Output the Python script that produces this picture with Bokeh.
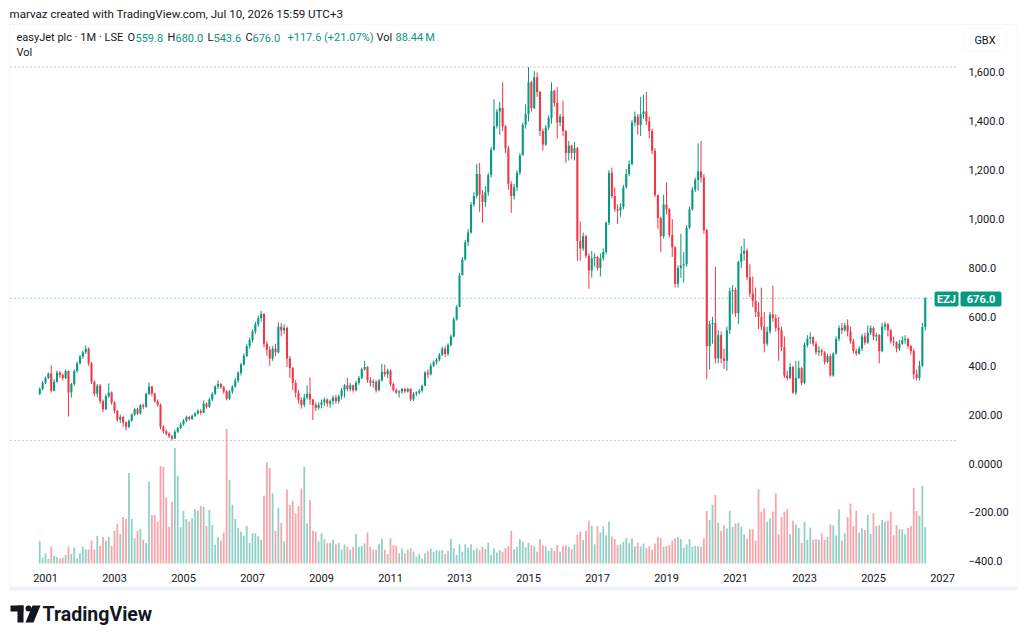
from bokeh.plotting import figure
from bokeh.models import (Range1d, Label, BoxAnnotation, PolyAnnotation, ColumnDataSource)
from bokeh.core.properties import value
from bokeh.embed import file_html
from bokeh.resources import INLINE

# ---------------- data (monthly, Nov 2000 .. Jul 2026), GBX ----------------
first_month_index = -2          # months after Jan 2001 of the first candle (Nov 2000)
first_open = 285.0

closes = [
    305, 330,
    350, 368, 298, 335, 372, 362, 350, 378, 290, 325, 378, 410,
    438, 455, 470, 410, 335, 285, 318, 255, 222, 275, 290, 250,
    215, 180, 190, 168, 150, 175, 200, 222, 205, 238, 232, 285,
    315, 285, 255, 240, 150, 132, 122, 112, 102, 130, 145, 160,
    175, 190, 182, 195, 205, 215, 208, 245, 232, 262, 285, 315,
    325, 312, 295, 265, 295, 315, 340, 370, 405, 440, 480, 505,
    540, 570, 595, 612, 490, 465, 430, 470, 455, 560, 545, 555,
    430, 390, 330, 290, 260, 240, 270, 285, 262, 240, 228, 240,
    250, 262, 245, 255, 270, 255, 275, 300, 320, 305, 320, 300,
    330, 350, 385, 395, 340, 330, 335, 300, 340, 375, 365, 380,
    325, 300, 290, 295, 305, 295, 305, 262, 285, 290, 298, 318,
    372, 365, 400, 415, 425, 445, 470, 448, 485, 520, 590, 640,
    770, 835, 905, 945, 1060, 1095, 1185, 1100, 1070, 1110, 1180, 1285,
    1380, 1440, 1455, 1380, 1290, 1145, 1095, 1130, 1190, 1260, 1385, 1430,
    1560, 1455, 1580, 1520, 1360, 1305, 1375, 1415, 1525, 1475, 1395, 1420,
    1360, 1270, 1300, 1270, 1290, 910, 880, 930, 850, 790, 840, 845,
    800, 840, 865, 985, 1190, 1095, 1040, 1035, 1050, 1130, 1185, 1225,
    1395, 1420, 1385, 1430, 1440, 1400, 1360, 1280, 1100, 1005, 930, 1060,
    1040, 935, 885, 735, 800, 810, 815, 965, 1040, 1120, 1160, 1195,
    1170, 955, 480, 570, 575, 430, 525, 430, 420, 545, 705, 710,
    615, 825, 858, 870, 762, 695, 665, 620, 600, 560, 490, 540,
    610, 595, 555, 545, 476, 360, 350, 395, 290, 350, 390, 330,
    485, 510, 517, 490, 455, 462, 455, 415, 440, 360, 450, 510,
    555, 545, 565, 540, 500, 460, 450, 470, 520, 495, 535, 555,
    520, 525, 460, 560, 570, 545, 500, 495, 470, 490, 505, 510,
    480, 460, 365, 350, 400, 558.4, 676.0,
]

highs = [
    312, 338,
    356, 372, 402, 345, 380, 378, 368, 385, 380, 330, 385, 418,
    445, 462, 483, 475, 415, 340, 325, 325, 262, 285, 328, 295,
    255, 220, 200, 195, 172, 180, 205, 228, 228, 242, 245, 290,
    332, 318, 290, 262, 245, 155, 140, 128, 118, 138, 150, 168,
    182, 196, 195, 200, 210, 222, 222, 258, 250, 270, 292, 320,
    340, 330, 318, 300, 300, 320, 350, 378, 412, 450, 490, 515,
    548, 580, 605, 625, 615, 500, 480, 480, 490, 578, 575, 570,
    560, 440, 395, 340, 300, 270, 285, 320, 352, 265, 250, 250,
    262, 270, 266, 262, 278, 280, 282, 310, 325, 350, 330, 322,
    338, 358, 392, 420, 398, 352, 345, 340, 345, 408, 405, 388,
    385, 330, 308, 300, 310, 310, 310, 308, 292, 295, 305, 322,
    378, 385, 410, 422, 432, 452, 478, 480, 492, 528, 598, 648,
    780, 845, 915, 960, 1070, 1110, 1225, 1230, 1120, 1135, 1190, 1295,
    1490, 1450, 1480, 1560, 1385, 1300, 1155, 1145, 1200, 1270, 1395, 1470,
    1622, 1565, 1605, 1600, 1525, 1370, 1385, 1425, 1560, 1530, 1540, 1430,
    1485, 1365, 1320, 1305, 1315, 1295, 990, 945, 935, 860, 870, 860,
    850, 860, 880, 990, 1200, 1210, 1130, 1060, 1065, 1140, 1205, 1240,
    1405, 1440, 1430, 1500, 1510, 1520, 1420, 1370, 1290, 1075, 1010, 1100,
    1150, 1045, 1000, 890, 810, 940, 865, 975, 1050, 1130, 1170, 1310,
    1320, 1185, 960, 585, 600, 805, 545, 540, 470, 560, 720, 730,
    720, 830, 890, 920, 880, 815, 765, 720, 660, 720, 620, 560,
    620, 728, 610, 600, 560, 520, 380, 410, 400, 420, 420, 395,
    495, 525, 537, 520, 500, 480, 470, 460, 450, 450, 455, 520,
    565, 575, 575, 590, 560, 510, 470, 480, 530, 535, 565, 565,
    560, 535, 530, 575, 580, 575, 550, 520, 500, 505, 520, 525,
    515, 485, 470, 385, 420, 575, 680.0,
]

lows = [
    280, 300,
    325, 345, 290, 295, 330, 350, 340, 345, 192, 270, 318, 370,
    405, 428, 448, 400, 325, 275, 270, 245, 210, 218, 268, 240,
    205, 170, 165, 150, 135, 145, 170, 195, 198, 200, 222, 228,
    280, 275, 248, 232, 140, 122, 115, 105, 94, 100, 125, 140,
    155, 170, 175, 178, 190, 200, 200, 205, 225, 228, 255, 280,
    305, 305, 285, 258, 260, 285, 310, 330, 360, 400, 435, 470,
    495, 530, 560, 580, 475, 440, 400, 420, 440, 450, 520, 530,
    395, 350, 300, 270, 245, 225, 230, 262, 240, 178, 215, 220,
    225, 235, 232, 228, 240, 245, 245, 262, 270, 295, 295, 290,
    295, 322, 345, 380, 330, 315, 310, 290, 295, 335, 355, 350,
    315, 295, 285, 270, 285, 288, 290, 255, 255, 275, 282, 290,
    318, 350, 360, 395, 405, 418, 440, 435, 440, 478, 515, 585,
    640, 770, 830, 890, 940, 1050, 1085, 1030, 985, 1050, 1095, 1170,
    1280, 1370, 1345, 1360, 1270, 1120, 1025, 1080, 1115, 1180, 1270, 1370,
    1400, 1440, 1450, 1500, 1340, 1280, 1300, 1365, 1390, 1460, 1330, 1380,
    1340, 1230, 1240, 1245, 1240, 830, 830, 870, 840, 715, 760, 805,
    790, 765, 830, 855, 975, 1085, 1030, 980, 1010, 1040, 1125, 1175,
    1220, 1380, 1345, 1340, 1410, 1385, 1330, 1265, 1090, 960, 865, 920,
    1020, 925, 845, 720, 720, 760, 740, 805, 960, 1035, 1110, 1115,
    1150, 940, 345, 385, 490, 410, 410, 410, 387, 380, 530, 610,
    600, 570, 800, 830, 750, 680, 640, 600, 550, 545, 455, 480,
    530, 580, 540, 420, 460, 350, 340, 345, 285, 280, 345, 320,
    325, 475, 490, 480, 445, 440, 440, 405, 410, 355, 355, 445,
    500, 530, 540, 520, 490, 450, 440, 445, 460, 485, 490, 525,
    505, 500, 410, 455, 545, 520, 490, 480, 455, 460, 485, 490,
    470, 445, 345, 340, 340, 395, 543.6,
]

# monthly volume, millions of shares
volumes = [
    55, 15,
    25, 11, 41, 19, 16, 12, 15, 21, 41, 23, 39, 12,
    25, 41, 34, 34, 56, 34, 68, 43, 65, 56, 65, 43,
    80, 96, 72, 114, 109, 222, 109, 62, 80, 85, 58, 50,
    201, 119, 119, 102, 239, 237, 162, 90, 151, 283, 215, 89,
    129, 109, 102, 111, 133, 129, 141, 139, 92, 131, 94, 46,
    65, 56, 76, 330, 205, 144, 109, 87, 78, 68, 92, 50,
    74, 74, 67, 58, 166, 248, 234, 172, 80, 137, 100, 54,
    181, 144, 154, 123, 141, 184, 237, 98, 155, 80, 78, 54,
    74, 60, 50, 50, 58, 47, 51, 34, 47, 41, 34, 41,
    72, 41, 43, 49, 76, 41, 34, 34, 47, 61, 34, 23,
    62, 45, 43, 25, 37, 25, 34, 37, 29, 17, 23, 12,
    25, 30, 37, 29, 33, 31, 33, 23, 31, 60, 37, 21,
    47, 29, 47, 39, 47, 33, 37, 33, 41, 35, 51, 21,
    37, 27, 33, 29, 38, 43, 80, 35, 41, 60, 54, 39,
    51, 45, 42, 29, 60, 45, 42, 31, 38, 31, 45, 29,
    43, 45, 41, 35, 47, 70, 78, 58, 80, 105, 92, 47,
    92, 76, 91, 69, 102, 66, 60, 45, 47, 53, 62, 50,
    62, 42, 51, 42, 49, 38, 42, 34, 49, 65, 62, 41,
    43, 45, 56, 62, 65, 60, 39, 47, 60, 41, 43, 42,
    41, 61, 129, 107, 144, 168, 100, 80, 94, 86, 129, 90,
    98, 100, 90, 72, 61, 84, 84, 56, 182, 127, 135, 102,
    111, 127, 172, 72, 114, 127, 133, 72, 105, 96, 87, 51,
    102, 58, 88, 58, 60, 58, 74, 58, 65, 96, 93, 69,
    133, 56, 74, 114, 147, 92, 129, 76, 87, 82, 119, 72,
    123, 92, 94, 107, 102, 105, 127, 69, 94, 84, 84, 72,
    87, 92, 185, 129, 117, 190, 88.44,
]

year_ticks = [2001, 2003, 2005, 2007, 2009, 2011, 2013, 2015,
              2017, 2019, 2021, 2023, 2025, 2027]
price_ticks = [-400, -200, 0, 200, 400, 600, 800, 1000, 1200, 1400, 1600]
price_tick_labels = ["\u2212400.0", "\u2212200.00", "0.0000", "200.00", "400.0",
                     "600.0", "800.0", "1,000.0", "1,200.0", "1,400.0", "1,600.0"]

# ---------------- derived table ----------------
n = len(closes)
opens = [first_open] + closes[:-1]
months = list(range(first_month_index, first_month_index + n))
UP, DOWN = "#089981", "#f23645"
colors = [UP if c >= o else DOWN for o, c in zip(opens, closes)]
src = ColumnDataSource(dict(
    m=months, o=opens, h=highs, l=lows, c=closes,
    top=[max(o, c) for o, c in zip(opens, closes)],
    bot=[min(o, c) for o, c in zip(opens, closes)],
    color=colors, vol=volumes))

# ---------------- scales: the frame covers the whole 1024x642 canvas ----------------
W, H = 1024, 642
PX_PER_MONTH = 2.875          # horizontal scale
X0_PX = 45.0                  # pixel of Jan 2001
PX_PER_GBX = 0.2444           # vertical price scale
ZERO_PX = 463.0               # pixel of price 0
VOL_PER_PX = 2.45             # volume scale (millions per pixel)
VOL_BASE_PX = 563.0           # pixel of volume 0

def xd(px):
    return (px - X0_PX) / PX_PER_MONTH

def yd(py):
    return (ZERO_PX - py) / PX_PER_GBX

FONT = "Roboto"
TXT = "#131722"
p = figure(width=W, height=H, output_backend="svg", toolbar_location=None,
           x_range=Range1d(xd(0), xd(W)), y_range=Range1d(yd(H), yd(0)),
           x_axis_location=None, y_axis_location=None,
           min_border=0, min_border_left=0, min_border_right=0,
           min_border_top=0, min_border_bottom=0, outline_line_color=None,
           background_fill_color="white", border_fill_color="white")
p.extra_y_ranges = {"vol": Range1d((VOL_BASE_PX - H) * VOL_PER_PX, VOL_BASE_PX * VOL_PER_PX)}
p.xgrid.visible = False
p.ygrid.visible = False

# chart panel border
p.add_layout(BoxAnnotation(left=9, right=1017, top=24, bottom=587,
                           left_units="canvas", right_units="canvas",
                           top_units="canvas", bottom_units="canvas",
                           fill_alpha=0, line_color="#e0e3eb", line_width=1,
                           level="underlay"))
p.add_layout(BoxAnnotation(left=9, right=1017, top=586, bottom=590,
                           left_units="canvas", right_units="canvas",
                           top_units="canvas", bottom_units="canvas",
                           fill_color="#f0f3fa", fill_alpha=1, line_color=None,
                           level="underlay"))

# volume + candles
p.vbar(x="m", width=0.62, top="vol", bottom=0, fill_color="color", fill_alpha=0.45,
       line_color=None, y_range_name="vol", source=src)
p.segment(x0="m", y0="l", x1="m", y1="h", line_color="color", line_width=1, source=src)
p.vbar(x="m", width=0.72, top="top", bottom="bot", fill_color="color",
       line_color=None, source=src)

# reference lines (high / low / last)
hl = [max(highs), min(lows)]
p.segment(x0=[xd(10)] * 2, x1=[xd(958)] * 2, y0=hl, y1=hl,
          line_color="#9598a1", line_dash="1 3", line_width=1)
p.segment(x0=[xd(10)], x1=[xd(933)], y0=[closes[-1]], y1=[closes[-1]],
          line_color=UP, line_dash="1 3", line_width=1, line_alpha=0.8)

# price scale labels
p.text(x=[xd(968)] * len(price_ticks), y=price_ticks, text=price_tick_labels,
       text_font=value(FONT), text_font_size="11px", text_color=TXT,
       text_align="left", text_baseline="middle")
# time scale labels
year_pos = [(y - 2001) * 12 for y in year_ticks]
p.text(x=year_pos, y=[yd(577)] * len(year_pos), text=[str(y) for y in year_ticks],
       text_font=value(FONT), text_font_size="11px", text_color=TXT,
       text_align="center", text_baseline="middle")

# ---------------- decorations (canvas px) ----------------
def box(l, r, t, b, fill=None, line=None, radius=0):
    p.add_layout(BoxAnnotation(left=l, right=r, top=t, bottom=b,
                               left_units="canvas", right_units="canvas",
                               top_units="canvas", bottom_units="canvas",
                               fill_color=fill, fill_alpha=1 if fill else 0,
                               line_color=line, line_width=1, border_radius=radius,
                               level="overlay"))

def txt(x, y, s, color=TXT, size="11px", bold=False, align="left"):
    p.add_layout(Label(x=x, y=y, x_units="canvas", y_units="canvas", text=s,
                       text_color=color, text_font=FONT, text_font_size=size,
                       text_font_style="bold" if bold else "normal",
                       text_align=align, text_baseline="middle", level="overlay"))

txt(9, 13, "marvaz created with TradingView.com, Jul 10, 2026 15:59 UTC+3", size="11.6px")

# legend line
txt(16, 37, "easyJet plc \u00b7 1M \u00b7 LSE")
txt(127, 37, "O")
txt(135, 37, "559.8", UP)
txt(167, 37, "H")
txt(175, 37, "680.0", UP)
txt(207, 37, "L")
txt(213, 37, "543.6", UP)
txt(245, 37, "C")
txt(252, 37, "676.0", UP)
txt(287, 37, "+117.6 (+21.07%)", UP)
txt(376, 37, "Vol")
txt(395, 37, "88.44\u2009M", UP)
txt(16, 52, "Vol")

# GBX box
box(963, 1006, 28, 51, fill="white", line="#e0e3eb", radius=4)
txt(984.5, 40, "GBX", align="center")

# last price tag
box(934, 958, 291, 306, fill=UP, line=None, radius=2)
box(960, 1001, 291, 306, fill=UP, line=None, radius=2)
txt(946, 298.5, "EZJ", "white", bold=True, align="center")
txt(980.5, 298.5, "676.0", "white", bold=True, align="center")

# TradingView logo
box(10, 23, 605, 611, fill=TXT)
box(17, 23, 605, 622, fill=TXT)
box(25, 31, 605, 611, fill=TXT, radius=3)
p.add_layout(PolyAnnotation(xs=[32, 40, 33, 25], ys=[605, 605, 622, 622],
                            xs_units="canvas", ys_units="canvas",
                            fill_color=TXT, fill_alpha=1, line_color=None,
                            level="overlay"))
txt(42, 614, "TradingView", bold=True, size="19.5px")

open("out.html", "w").write(file_html(p, INLINE))
